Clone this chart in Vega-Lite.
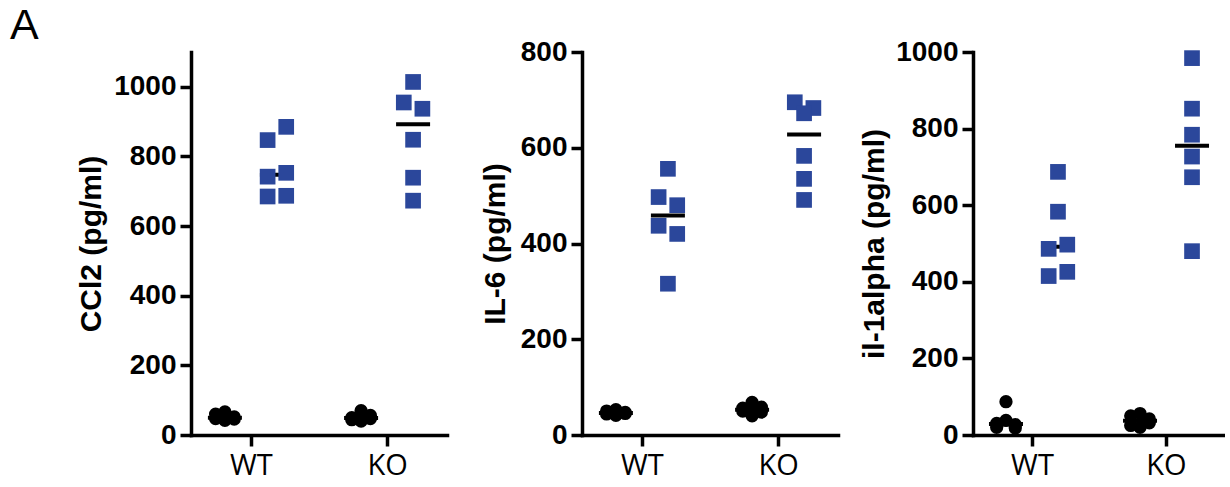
{
  "$schema": "https://vega.github.io/schema/vega-lite/v6.json",
  "padding": {"left": 10, "top": 5, "right": 0, "bottom": 6},
  "background": "white",
  "config": {
    "view": {"stroke": null},
    "axis": {"grid": false, "domainColor": "black", "tickColor": "black", "domainWidth": 3.5, "tickWidth": 3.5, "tickSize": 11, "labelColor": "black", "titleColor": "black", "domainCap": "square"},
    "axisY": {"labelFont": "Liberation Sans", "labelFontWeight": "bold", "labelFontSize": 28, "labelPadding": 4, "titleFont": "Liberation Sans", "titleFontWeight": "bold", "titleFontSize": 30, "format": "d"},
    "axisX": {"labelFont": "Open Sans", "labelFontWeight": "normal", "labelFontSize": 29, "labelAngle": 0, "labelPadding": 5}
  },
  "datasets": {
    "cyto": [
      {"cytokine": "CCl2", "genotype": "WT", "treatment": "stim", "col": 1, "value": 885},
      {"cytokine": "CCl2", "genotype": "WT", "treatment": "stim", "col": -1, "value": 847},
      {"cytokine": "CCl2", "genotype": "WT", "treatment": "stim", "col": 1, "value": 753},
      {"cytokine": "CCl2", "genotype": "WT", "treatment": "stim", "col": -1, "value": 742},
      {"cytokine": "CCl2", "genotype": "WT", "treatment": "stim", "col": 1, "value": 687},
      {"cytokine": "CCl2", "genotype": "WT", "treatment": "stim", "col": -1, "value": 685},
      {"cytokine": "CCl2", "genotype": "KO", "treatment": "stim", "col": 0, "value": 1014},
      {"cytokine": "CCl2", "genotype": "KO", "treatment": "stim", "col": -1, "value": 955},
      {"cytokine": "CCl2", "genotype": "KO", "treatment": "stim", "col": 1, "value": 937},
      {"cytokine": "CCl2", "genotype": "KO", "treatment": "stim", "col": 0, "value": 848},
      {"cytokine": "CCl2", "genotype": "KO", "treatment": "stim", "col": 0, "value": 739},
      {"cytokine": "CCl2", "genotype": "KO", "treatment": "stim", "col": 0, "value": 673},
      {"cytokine": "CCl2", "genotype": "WT", "treatment": "unstim", "col": -1, "value": 60},
      {"cytokine": "CCl2", "genotype": "WT", "treatment": "unstim", "col": -1, "value": 47},
      {"cytokine": "CCl2", "genotype": "WT", "treatment": "unstim", "col": 0, "value": 66},
      {"cytokine": "CCl2", "genotype": "WT", "treatment": "unstim", "col": 0, "value": 42},
      {"cytokine": "CCl2", "genotype": "WT", "treatment": "unstim", "col": 1, "value": 52},
      {"cytokine": "CCl2", "genotype": "WT", "treatment": "unstim", "col": 1, "value": 46},
      {"cytokine": "CCl2", "genotype": "KO", "treatment": "unstim", "col": -1, "value": 50},
      {"cytokine": "CCl2", "genotype": "KO", "treatment": "unstim", "col": -1, "value": 44},
      {"cytokine": "CCl2", "genotype": "KO", "treatment": "unstim", "col": 0, "value": 70},
      {"cytokine": "CCl2", "genotype": "KO", "treatment": "unstim", "col": 0, "value": 40},
      {"cytokine": "CCl2", "genotype": "KO", "treatment": "unstim", "col": 1, "value": 56},
      {"cytokine": "CCl2", "genotype": "KO", "treatment": "unstim", "col": 1, "value": 47},
      {"cytokine": "IL-6", "genotype": "WT", "treatment": "stim", "col": 0, "value": 556},
      {"cytokine": "IL-6", "genotype": "WT", "treatment": "stim", "col": -1, "value": 497},
      {"cytokine": "IL-6", "genotype": "WT", "treatment": "stim", "col": 1, "value": 480},
      {"cytokine": "IL-6", "genotype": "WT", "treatment": "stim", "col": -1, "value": 437},
      {"cytokine": "IL-6", "genotype": "WT", "treatment": "stim", "col": 1, "value": 420},
      {"cytokine": "IL-6", "genotype": "WT", "treatment": "stim", "col": 0, "value": 316},
      {"cytokine": "IL-6", "genotype": "KO", "treatment": "stim", "col": -1, "value": 695},
      {"cytokine": "IL-6", "genotype": "KO", "treatment": "stim", "col": 1, "value": 683},
      {"cytokine": "IL-6", "genotype": "KO", "treatment": "stim", "col": 0, "value": 672},
      {"cytokine": "IL-6", "genotype": "KO", "treatment": "stim", "col": 0, "value": 583},
      {"cytokine": "IL-6", "genotype": "KO", "treatment": "stim", "col": 0, "value": 535},
      {"cytokine": "IL-6", "genotype": "KO", "treatment": "stim", "col": 0, "value": 491},
      {"cytokine": "IL-6", "genotype": "WT", "treatment": "unstim", "col": -1, "value": 50},
      {"cytokine": "IL-6", "genotype": "WT", "treatment": "unstim", "col": -1, "value": 44},
      {"cytokine": "IL-6", "genotype": "WT", "treatment": "unstim", "col": 0, "value": 53},
      {"cytokine": "IL-6", "genotype": "WT", "treatment": "unstim", "col": 0, "value": 41},
      {"cytokine": "IL-6", "genotype": "WT", "treatment": "unstim", "col": 1, "value": 47},
      {"cytokine": "IL-6", "genotype": "WT", "treatment": "unstim", "col": 1, "value": 45},
      {"cytokine": "IL-6", "genotype": "KO", "treatment": "unstim", "col": -1, "value": 56},
      {"cytokine": "IL-6", "genotype": "KO", "treatment": "unstim", "col": -1, "value": 50},
      {"cytokine": "IL-6", "genotype": "KO", "treatment": "unstim", "col": 0, "value": 68},
      {"cytokine": "IL-6", "genotype": "KO", "treatment": "unstim", "col": 0, "value": 40},
      {"cytokine": "IL-6", "genotype": "KO", "treatment": "unstim", "col": 1, "value": 58},
      {"cytokine": "IL-6", "genotype": "KO", "treatment": "unstim", "col": 1, "value": 48},
      {"cytokine": "il-1alpha", "genotype": "WT", "treatment": "stim", "col": 0, "value": 687},
      {"cytokine": "il-1alpha", "genotype": "WT", "treatment": "stim", "col": 0, "value": 583},
      {"cytokine": "il-1alpha", "genotype": "WT", "treatment": "stim", "col": 1, "value": 497},
      {"cytokine": "il-1alpha", "genotype": "WT", "treatment": "stim", "col": -1, "value": 486},
      {"cytokine": "il-1alpha", "genotype": "WT", "treatment": "stim", "col": 1, "value": 426},
      {"cytokine": "il-1alpha", "genotype": "WT", "treatment": "stim", "col": -1, "value": 415},
      {"cytokine": "il-1alpha", "genotype": "KO", "treatment": "stim", "col": 0, "value": 984},
      {"cytokine": "il-1alpha", "genotype": "KO", "treatment": "stim", "col": 0, "value": 852},
      {"cytokine": "il-1alpha", "genotype": "KO", "treatment": "stim", "col": 0, "value": 784},
      {"cytokine": "il-1alpha", "genotype": "KO", "treatment": "stim", "col": 0, "value": 727},
      {"cytokine": "il-1alpha", "genotype": "KO", "treatment": "stim", "col": 0, "value": 673},
      {"cytokine": "il-1alpha", "genotype": "KO", "treatment": "stim", "col": 0, "value": 480},
      {"cytokine": "il-1alpha", "genotype": "WT", "treatment": "unstim", "col": 0, "value": 87},
      {"cytokine": "il-1alpha", "genotype": "WT", "treatment": "unstim", "col": 0, "value": 38},
      {"cytokine": "il-1alpha", "genotype": "WT", "treatment": "unstim", "col": -1, "value": 30},
      {"cytokine": "il-1alpha", "genotype": "WT", "treatment": "unstim", "col": -1, "value": 20},
      {"cytokine": "il-1alpha", "genotype": "WT", "treatment": "unstim", "col": 1, "value": 27},
      {"cytokine": "il-1alpha", "genotype": "WT", "treatment": "unstim", "col": 1, "value": 18},
      {"cytokine": "il-1alpha", "genotype": "KO", "treatment": "unstim", "col": -1, "value": 50},
      {"cytokine": "il-1alpha", "genotype": "KO", "treatment": "unstim", "col": -1, "value": 25},
      {"cytokine": "il-1alpha", "genotype": "KO", "treatment": "unstim", "col": 0, "value": 56},
      {"cytokine": "il-1alpha", "genotype": "KO", "treatment": "unstim", "col": 0, "value": 20},
      {"cytokine": "il-1alpha", "genotype": "KO", "treatment": "unstim", "col": 1, "value": 42},
      {"cytokine": "il-1alpha", "genotype": "KO", "treatment": "unstim", "col": 1, "value": 32}
    ]
  },
  "data": {"name": "cyto"},
  "bounds": "flush",
  "spacing": 135,
  "hconcat": [
    {
      "width": 256, "height": 383,
      "title": {"text": "A", "anchor": "start", "frame": "group", "dx": -181, "offset": -30, "fontSize": 43, "fontWeight": "normal", "font": "Liberation Sans", "color": "black", "baseline": "alphabetic"},
      "transform": [{"filter": "datum.cytokine === 'CCl2'"}],
      "encoding": {
        "x": {"field": "genotype", "type": "nominal", "scale": {"type": "point", "domain": ["WT", "KO"], "padding": 0.44}, "axis": {"title": null}},
        "y": {"field": "value", "type": "quantitative", "scale": {"domain": [0, 1100], "nice": false}, "axis": {"title": "CCl2 (pg/ml)", "values": [0, 200, 400, 600, 800, 1000], "titlePadding": 7}}
      },
      "layer": [
        {"transform": [{"aggregate": [{"op": "median", "field": "value", "as": "value"}], "groupby": ["genotype", "treatment"]}],
         "mark": {"type": "tick", "color": "black", "size": 34, "thickness": 4, "opacity": 1},
         "encoding": {"xOffset": {"field": "treatment", "type": "nominal", "scale": {"type": "point", "domain": ["unstim", "stim"], "range": [-26, 26], "padding": 0}}}},
        {"transform": [{"filter": "datum.treatment === 'unstim'"}],
         "mark": {"type": "point", "shape": "circle", "filled": true, "color": "black", "size": 177, "opacity": 1},
         "encoding": {"xOffset": {"field": "col", "type": "quantitative", "scale": {"domain": [-1, 1], "range": [-35.3, -16.7]}}}},
        {"transform": [{"filter": "datum.treatment === 'stim'"}],
         "mark": {"type": "point", "shape": "square", "filled": true, "color": "#2b479b", "size": 246, "opacity": 1},
         "encoding": {"xOffset": {"field": "col", "type": "quantitative", "scale": {"domain": [-1, 1], "range": [16.7, 35.3]}}}}
      ],
      "resolve": {"scale": {"xOffset": "independent"}}
    },
    {
      "width": 256, "height": 383,
      "transform": [{"filter": "datum.cytokine === 'IL-6'"}],
      "encoding": {
        "x": {"field": "genotype", "type": "nominal", "scale": {"type": "point", "domain": ["WT", "KO"], "padding": 0.44}, "axis": {"title": null}},
        "y": {"field": "value", "type": "quantitative", "scale": {"domain": [0, 800], "nice": false}, "axis": {"title": "IL-6 (pg/ml)", "values": [0, 200, 400, 600, 800], "titlePadding": 10}}
      },
      "layer": [
        {"transform": [{"aggregate": [{"op": "median", "field": "value", "as": "value"}], "groupby": ["genotype", "treatment"]}],
         "mark": {"type": "tick", "color": "black", "size": 34, "thickness": 4, "opacity": 1},
         "encoding": {"xOffset": {"field": "treatment", "type": "nominal", "scale": {"type": "point", "domain": ["unstim", "stim"], "range": [-26, 26], "padding": 0}}}},
        {"transform": [{"filter": "datum.treatment === 'unstim'"}],
         "mark": {"type": "point", "shape": "circle", "filled": true, "color": "black", "size": 177, "opacity": 1},
         "encoding": {"xOffset": {"field": "col", "type": "quantitative", "scale": {"domain": [-1, 1], "range": [-35.3, -16.7]}}}},
        {"transform": [{"filter": "datum.treatment === 'stim'"}],
         "mark": {"type": "point", "shape": "square", "filled": true, "color": "#2b479b", "size": 246, "opacity": 1},
         "encoding": {"xOffset": {"field": "col", "type": "quantitative", "scale": {"domain": [-1, 1], "range": [16.7, 35.3]}}}}
      ],
      "resolve": {"scale": {"xOffset": "independent"}}
    },
    {
      "width": 252, "height": 383,
      "transform": [{"filter": "datum.cytokine === 'il-1alpha'"}],
      "encoding": {
        "x": {"field": "genotype", "type": "nominal", "scale": {"type": "point", "domain": ["WT", "KO"], "padding": 0.44}, "axis": {"title": null}},
        "y": {"field": "value", "type": "quantitative", "scale": {"domain": [0, 1000], "nice": false}, "axis": {"title": "il-1alpha (pg/ml)", "values": [0, 200, 400, 600, 800, 1000], "titlePadding": 6}}
      },
      "layer": [
        {"transform": [{"aggregate": [{"op": "median", "field": "value", "as": "value"}], "groupby": ["genotype", "treatment"]}],
         "mark": {"type": "tick", "color": "black", "size": 34, "thickness": 4, "opacity": 1},
         "encoding": {"xOffset": {"field": "treatment", "type": "nominal", "scale": {"type": "point", "domain": ["unstim", "stim"], "range": [-26, 26], "padding": 0}}}},
        {"transform": [{"filter": "datum.treatment === 'unstim'"}],
         "mark": {"type": "point", "shape": "circle", "filled": true, "color": "black", "size": 177, "opacity": 1},
         "encoding": {"xOffset": {"field": "col", "type": "quantitative", "scale": {"domain": [-1, 1], "range": [-35.3, -16.7]}}}},
        {"transform": [{"filter": "datum.treatment === 'stim'"}],
         "mark": {"type": "point", "shape": "square", "filled": true, "color": "#2b479b", "size": 246, "opacity": 1},
         "encoding": {"xOffset": {"field": "col", "type": "quantitative", "scale": {"domain": [-1, 1], "range": [16.7, 35.3]}}}}
      ],
      "resolve": {"scale": {"xOffset": "independent"}}
    }
  ]
}
